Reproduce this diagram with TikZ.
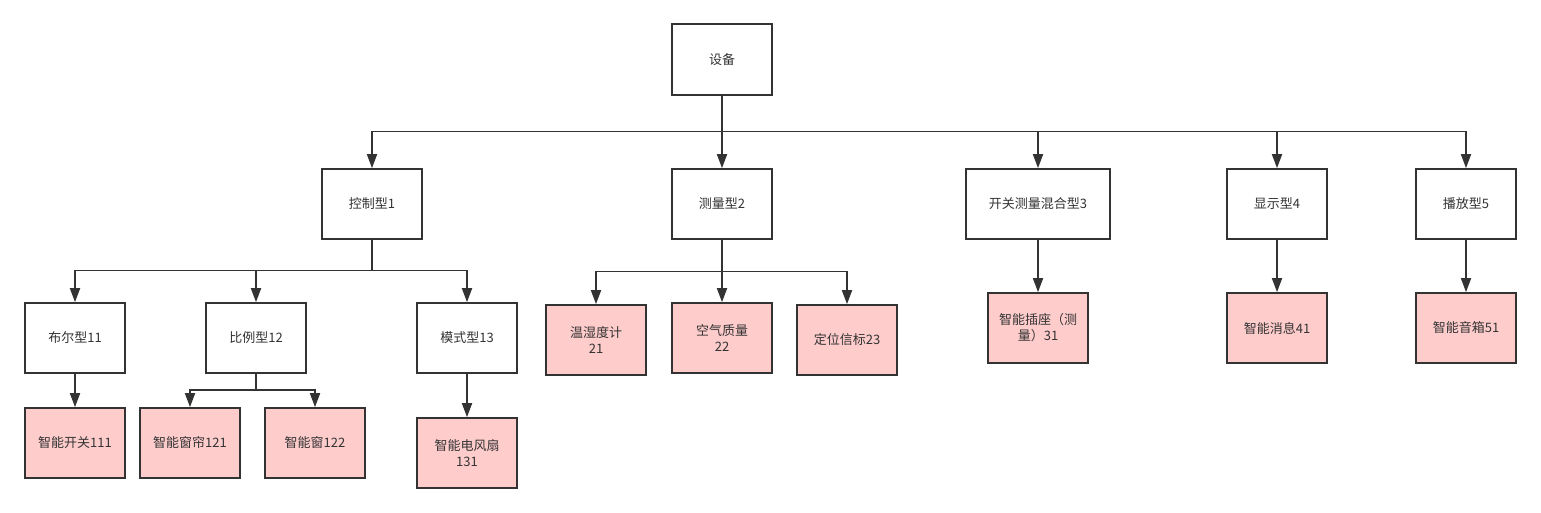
\documentclass[tikz,border=0pt]{standalone}
\usepackage{fontspec}
\setmainfont{Noto Sans CJK SC}
\usetikzlibrary{arrows.meta}
\definecolor{ink}{HTML}{333333}
\definecolor{pink}{HTML}{FFCCCC}
\begin{document}
\begin{tikzpicture}[x=1pt, y=-1pt, >={Triangle[length=14pt,width=10pt]},
    font=\fontsize{13}{16}\selectfont, line width=1.7pt, draw=ink, text=ink,
    box/.style={draw=ink, fill=white, line width=1.7pt, minimum width=100pt, minimum height=70pt, inner sep=2pt, align=center},
    leaf/.style={box, fill=pink},
    arr/.style={->, draw=ink, line width=1.8pt}]
    \useasboundingbox (0,0) rectangle (1541,512);
    % top
    \node[box, minimum height=71pt] (dev) at (722,59.5) {设备};
    \node[box] (c1) at (372,204) {控制型1};
    \node[box] (c2) at (722,204) {测量型2};
    \node[box, minimum width=144pt] (c3) at (1038,204) {开关测量混合型3};
    \node[box] (c4) at (1277,204) {显示型4};
    \node[box] (c5) at (1466,204) {播放型5};
    % type 1
    \node[box] (c11) at (75,338) {布尔型11};
    \node[box] (c12) at (256,338) {比例型12};
    \node[box] (c13) at (467,338) {模式型13};
    \node[leaf] (d111) at (75,443) {智能开关111};
    \node[leaf] (d121) at (190,443) {智能窗帘121};
    \node[leaf] (d122) at (315,443) {智能窗122};
    \node[leaf] (d131) at (467,453) {智能电风扇\\131};
    % type 2
    \node[leaf] (d21) at (596,340) {温湿度计\\21};
    \node[leaf] (d22) at (722,338) {空气质量\\22};
    \node[leaf] (d23) at (847,340) {定位信标23};
    % types 3-5
    \node[leaf] (d31) at (1038,328) {智能插座（测\\量）31};
    \node[leaf] (d41) at (1277,328) {智能消息41};
    \node[leaf] (d51) at (1466,328) {智能音箱51};
    % buses
    \coordinate (b0) at (722,131.5);
    \coordinate (b1) at (372,270.5);
    \coordinate (b2) at (722,271.5);
    \coordinate (b12) at (256,390);
    \foreach \n in {c1,c2,c3,c4,c5}
        \draw[arr] (dev.south) -- (b0) -| (\n);
    \foreach \n in {c11,c12,c13}
        \draw[arr] (c1.south) -- (b1) -| (\n);
    \foreach \n in {d121,d122}
        \draw[arr] (c12.south) -- (b12) -| (\n);
    \foreach \n in {d21,d22,d23}
        \draw[arr] (c2.south) -- (b2) -| (\n);
    \draw[arr] (c11) -- (d111);
    \draw[arr] (c13) -- (d131);
    \draw[arr] (c3) -- (d31);
    \draw[arr] (c4) -- (d41);
    \draw[arr] (c5) -- (d51);
\end{tikzpicture}
\end{document}
